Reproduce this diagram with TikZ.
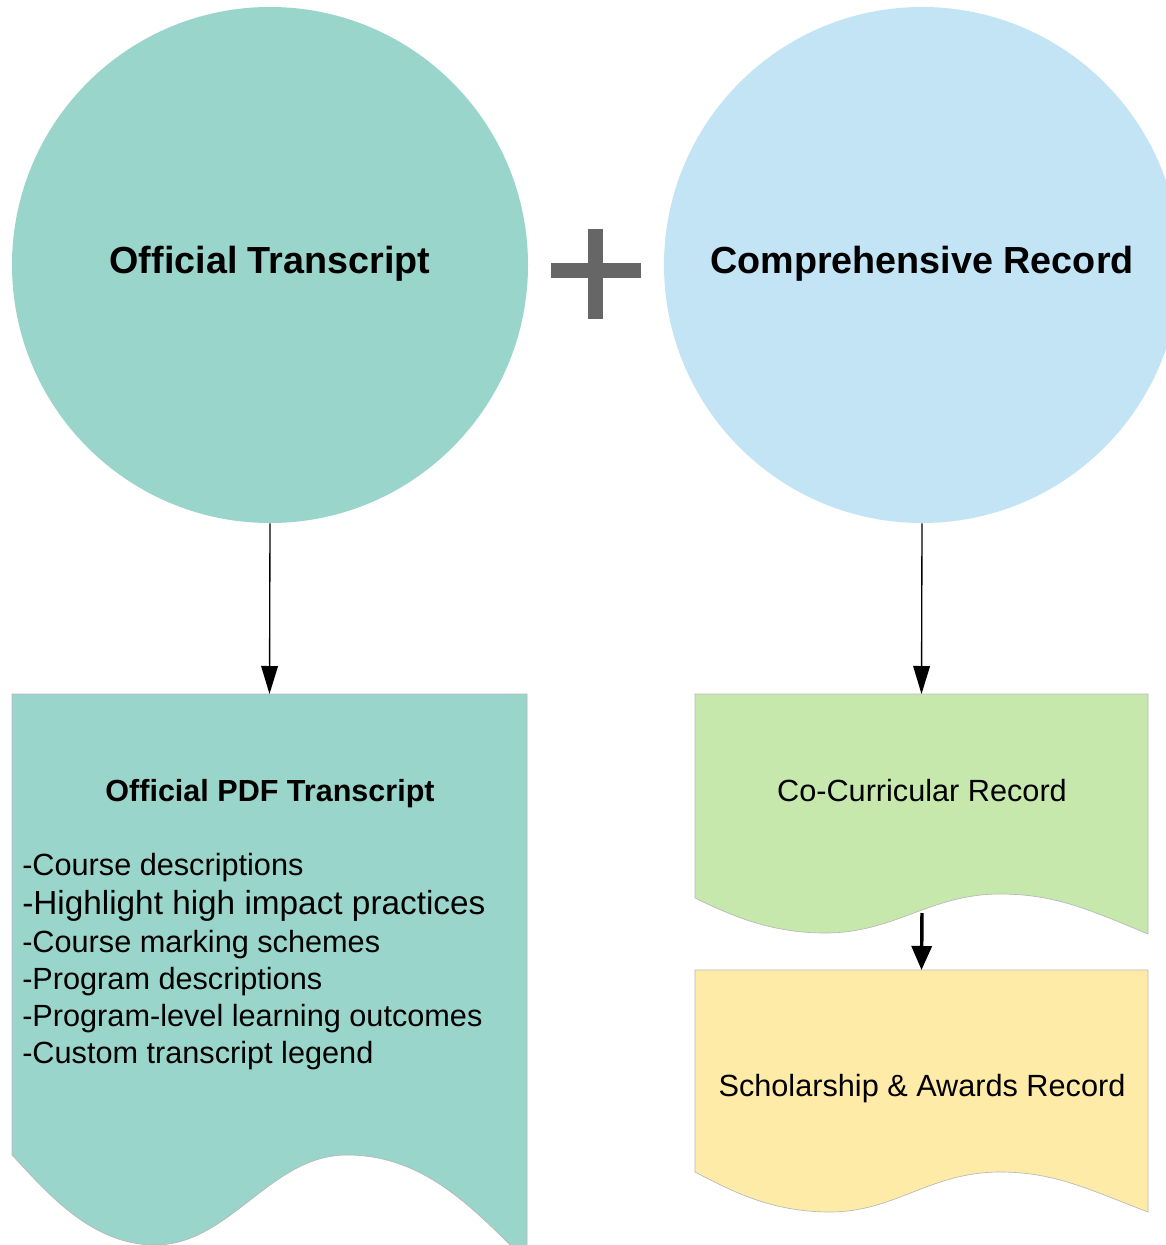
\documentclass[tikz,border=0pt]{standalone}
\usepackage{fontspec}
\setmainfont{Liberation Sans}
\usetikzlibrary{arrows.meta}
\definecolor{tealfill}{HTML}{99D5CA}
\definecolor{bluefill}{HTML}{C2E4F5}
\definecolor{greenfill}{HTML}{C7E8AC}
\definecolor{yellowfill}{HTML}{FFEBA8}
\definecolor{plusgray}{HTML}{666666}
\definecolor{edgegray}{HTML}{B8B8B8}
\tikzset{
  bigcircle/.style={circle, inner sep=0pt, minimum size=387pt},
  circtext/.style={font=\fontsize{28.3}{34}\selectfont\bfseries},
  docedge/.style={draw=edgegray, line width=0.5pt},
  anchorbox/.style={draw=none, inner sep=0pt, anchor=north},
  bodytext/.style={font=\fontsize{23}{28}\selectfont, inner sep=0pt},
  flowarrow/.style={line width=1pt, -{Triangle[length=21pt,width=12.5pt]}},
  thickarrow/.style={line width=2.6pt, -{Triangle[length=18pt,width=15pt]}},
}
\begin{document}
\begin{tikzpicture}[x=0.75pt,y=-0.75pt]
\useasboundingbox (0,0) rectangle (1166,1245);
\clip (0,0) rectangle (1166,1245);
% circles
\node[bigcircle, fill=tealfill] (ot) at (270,265) {};
\node[bigcircle, fill=bluefill] (cr) at (922,265) {};
\node[circtext] (ottext) at (270,264) {Official Transcript};
\node[circtext] (crtext) at (922,264) {Comprehensive Record};
% plus
\fill[plusgray] (588,229) rectangle (603,319);
\fill[plusgray] (551,263) rectangle (641,278);
% left document
\path[fill=tealfill, docedge] (12,1155) -- (12,694) -- (527,694) -- (527,1262)
  .. controls (475,1210) and (425,1155) .. (347,1155)
  .. controls (270,1155) and (230,1245) .. (155,1245)
  .. controls (90,1245) and (45,1190) .. (12,1155) -- cycle;
\node[anchorbox, minimum width=386.25pt, minimum height=300pt] (pdf) at (269.5,694) {};
% green document
\path[fill=greenfill, docedge] (695,898) -- (695,694) -- (1148,694) -- (1148,934)
  .. controls (1090,910) and (1055,894) .. (1000,894)
  .. controls (930,894) and (895,933) .. (825,933)
  .. controls (770,933) and (730,915) .. (695,898) -- cycle;
\node[anchorbox, minimum width=339.75pt, minimum height=150pt] (cc) at (921.5,694) {};
\coordinate (ccbot) at (922,913);
% yellow document
\path[fill=yellowfill, docedge] (695,1172) -- (695,970) -- (1148,970) -- (1148,1212)
  .. controls (1090,1190) and (1055,1172) .. (1000,1172)
  .. controls (930,1172) and (895,1212) .. (830,1212)
  .. controls (770,1212) and (730,1190) .. (695,1172) -- cycle;
\node[anchorbox, minimum width=339.75pt, minimum height=150pt] (sa) at (921.5,970) {};
% texts
\node[font=\fontsize{22.9}{28}\selectfont\bfseries] (pdftitle) at (270,794) {Official PDF Transcript};
\node[bodytext, anchor=base west] (l1) at (22,875) {-Course descriptions};
\node[bodytext, anchor=base west, font=\fontsize{25}{30}\selectfont] (l2) at (22,914) {-Highlight high impact practices};
\node[bodytext, anchor=base west] (l3) at (22,952) {-Course marking schemes};
\node[bodytext, anchor=base west] (l4) at (22,989) {-Program descriptions};
\node[bodytext, anchor=base west] (l5) at (22,1026) {-Program-level learning outcomes};
\node[bodytext, anchor=base west] (l6) at (22,1063) {-Custom transcript legend};
\node[bodytext] (cctext) at (922,791) {Co-Curricular Record};
\node[bodytext] (satext) at (922,1089) {Scholarship \& Awards Record};
% arrows
\draw[flowarrow] (ot.south) -- (pdf.north);
\draw[flowarrow] (cr.south) -- (cc.north);
\draw[thickarrow] (ccbot) -- (sa.north);
\end{tikzpicture}
\end{document}
